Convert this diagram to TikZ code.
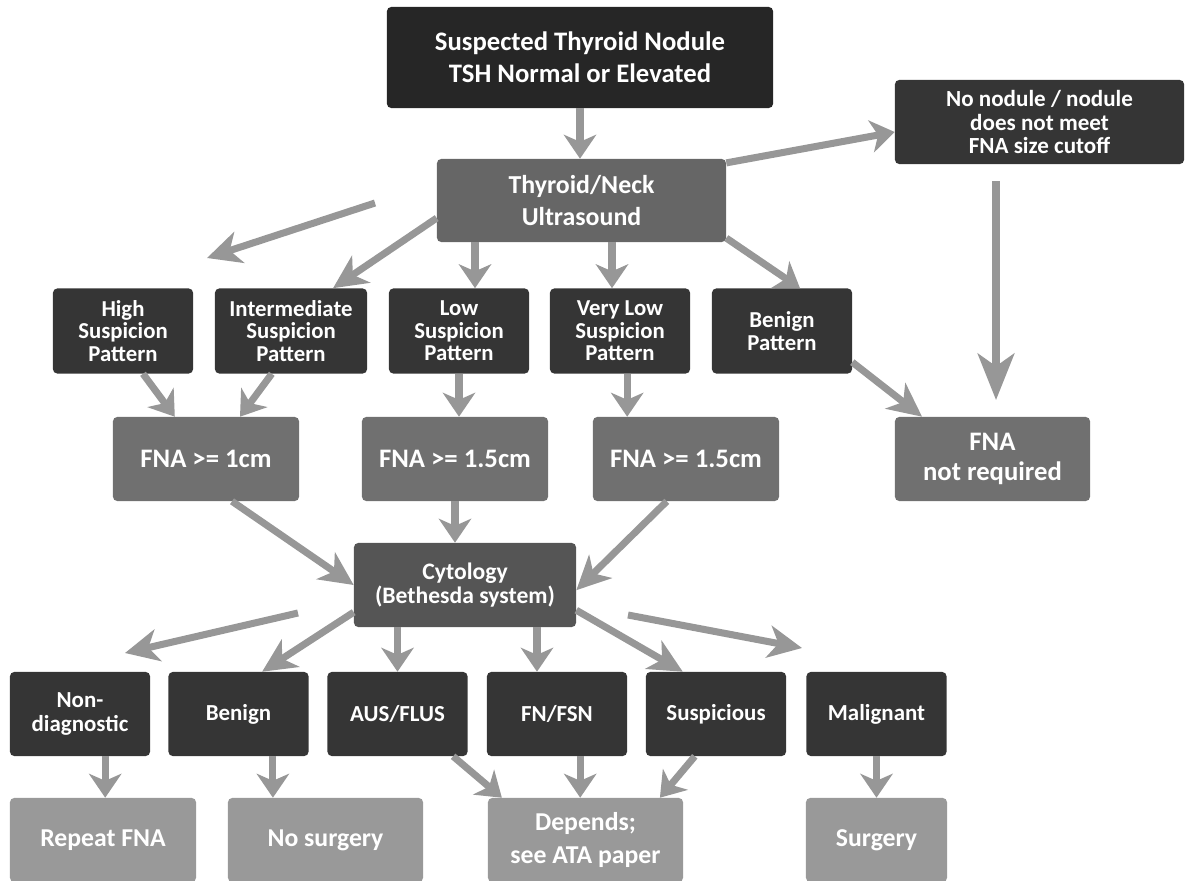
\documentclass[tikz,border=0pt]{standalone}
\usepackage{fontspec}
\setmainfont{Carlito}
\usetikzlibrary{arrows.meta}
\definecolor{topgray}{HTML}{262626}
\definecolor{darkgray}{HTML}{353535}
\definecolor{usgray}{HTML}{666666}
\definecolor{fnagray}{HTML}{707070}
\definecolor{cytogray}{HTML}{555555}
\definecolor{resgray}{HTML}{999999}
\definecolor{arrowgray}{HTML}{979797}

\begin{document}
\begin{tikzpicture}[x=0.025cm,y=-0.025cm,
  box/.style={rounded corners=3pt,text=white,align=center,inner sep=0pt},
  headbox/.style={box,fill=topgray,minimum width=9.65cm,minimum height=2.525cm,font=\fontsize{19}{22.5}\selectfont\bfseries},
  usbox/.style={box,fill=usgray,minimum width=7.225cm,minimum height=2.075cm,font=\fontsize{18.4}{22.5}\selectfont\bfseries},
  patbox/.style={box,fill=darkgray,minimum width=3.5cm,minimum height=2.125cm,font=\fontsize{16.2}{16}\selectfont\bfseries},
  fnabox/.style={box,fill=fnagray,minimum width=4.65cm,minimum height=2.1cm,font=\fontsize{19}{21}\selectfont\bfseries},
  cytobox/.style={box,fill=cytogray,minimum width=5.55cm,minimum height=2.1cm,font=\fontsize{16.8}{17}\selectfont\bfseries},
  catbox/.style={box,fill=darkgray,minimum width=3.5cm,minimum height=2.1cm,font=\fontsize{16.3}{16.5}\selectfont\bfseries},
  resbox/.style={box,fill=resgray,minimum height=2.1cm,font=\fontsize{18.3}{23.5}\selectfont\bfseries},
  flow/.style={draw=arrowgray,line width=5pt,-{Stealth[length=17pt,width=23pt,inset=5pt]}},
  longflow/.style={draw=arrowgray,line width=5pt,-{Stealth[length=24pt,width=23pt,inset=7pt]}},
  bigflow/.style={draw=arrowgray,line width=5pt,-{Stealth[length=33pt,width=26pt,inset=9pt]}}]
\useasboundingbox (0,0) rectangle (1186,881);

% first two levels
\node[headbox] (start) at (580,57.5) {Suspected Thyroid Nodule\\TSH Normal or Elevated};
\node[usbox] (us) at (581.5,200.5) {Thyroid/Neck\\Ultrasound};
\node[box,fill=darkgray,minimum width=7.225cm,minimum height=2.1cm,font=\fontsize{16.4}{16.5}\selectfont\bfseries] (nonod) at (1039.5,122) {No nodule / nodule\\does not meet\\FNA size cutoff};

% ultrasound patterns
\node[patbox] (high) at (123,331) {High\\Suspicion\\Pattern};
\node[patbox,minimum width=3.8cm] (inter) at (291,331) {Intermediate\\Suspicion\\Pattern};
\node[patbox] (low) at (459,331) {Low\\Suspicion\\Pattern};
\node[patbox] (vlow) at (620,331) {Very Low\\Suspicion\\Pattern};
\node[patbox] (bpat) at (782,331) {Benign\\Pattern};

\node[fnabox] (fna1) at (206,459) {FNA >= 1cm};
\node[fnabox] (fna2) at (455,459) {FNA >= 1.5cm};
\node[fnabox] (fna3) at (686,459) {FNA >= 1.5cm};
\node[fnabox,minimum width=4.875cm] (fnanot) at (992.5,459) {FNA\\not required};

\node[cytobox] (cyto) at (465,585) {Cytology\\(Bethesda system)};

% Bethesda categories
\node[catbox] (nondiag) at (80,714) {Non-\\diagnostic};
\node[catbox] (benign) at (238.5,714) {Benign};
\node[catbox] (aus) at (397.5,714) {AUS/FLUS};
\node[catbox] (fnfsn) at (557,714) {FN/FSN};
\node[catbox] (susp) at (716,714) {Suspicious};
\node[catbox] (malig) at (876.5,714) {Malignant};

\node[resbox,minimum width=4.65cm] (repeat) at (103,840) {Repeat FNA};
\node[resbox,minimum width=4.875cm] (nosurg) at (325.5,840) {No surgery};
\node[resbox,minimum width=4.875cm] (depends) at (585.5,840) {Depends;\\see ATA paper};
\node[resbox,minimum width=3.525cm] (surgery) at (876.5,840) {Surgery};

\coordinate (usfree) at (375,203);
\coordinate (usfreeend) at (207,258);
\coordinate (nonodfree) at (996,181);
\coordinate (nonodfreeend) at (996,400);
\coordinate (cytofreeL) at (298,613);
\coordinate (cytofreeLend) at (125,653);
\coordinate (cytofreeR) at (628,615);
\coordinate (cytofreeRend) at (802,648);

\draw[flow] (start.south) -- (start.south |- us.north);
\draw[flow] ([yshift=0.94cm]us.east) -- ([yshift=-0.25cm]nonod.west);
\draw[longflow] (usfree) -- (usfreeend);
\draw[longflow] ([yshift=-0.44cm]us.west) -- ([xshift=1.05cm]inter.north);
\draw[flow] ([xshift=0.4cm]low.north |- us.south) -- ([xshift=0.4cm]low.north);
\draw[flow] ([xshift=-0.2cm]vlow.north |- us.south) -- ([xshift=-0.2cm]vlow.north);
\draw[flow] ([yshift=-0.94cm]us.east) -- ([xshift=0.45cm]bpat.north);
\draw[bigflow] (nonodfree) -- (nonodfreeend);
\draw[longflow] ([yshift=-0.78cm]bpat.east) -- ([xshift=-1.76cm]fnanot.north);

\draw[flow] ([xshift=0.5cm]high.south) -- ([xshift=-0.78cm]fna1.north);
\draw[flow] ([xshift=-0.48cm]inter.south) -- ([xshift=0.85cm]fna1.north);
\draw[flow] (low.south) -- (low.south |- fna2.north);
\draw[flow] ([xshift=0.18cm]vlow.south) -- ([xshift=0.18cm]vlow.south |- fna3.north);

\draw[longflow] ([xshift=0.65cm]fna1.south) -- (cyto.west);
\draw[flow] (fna2.south) -- (fna2.south |- cyto.north);
\draw[longflow] ([xshift=-0.48cm]fna3.south) -- ([yshift=-0.13cm]cyto.east);

\draw[longflow] (cytofreeL) -- (cytofreeLend);
\draw[longflow] ([yshift=-0.68cm]cyto.west) -- ([xshift=0.59cm]benign.north);
\draw[flow] (cyto.south -| aus.north) -- (aus.north);
\draw[flow] ([xshift=-0.5cm]fnfsn.north |- cyto.south) -- ([xshift=-0.5cm]fnfsn.north);
\draw[longflow] ([yshift=-0.63cm]cyto.east) -- ([xshift=-0.83cm]susp.north);
\draw[longflow] (cytofreeR) -- (cytofreeRend);

\draw[flow] ([xshift=0.63cm]nondiag.south) -- ([xshift=0.63cm]nondiag.south |- repeat.north);
\draw[flow] ([xshift=0.86cm]benign.south) -- ([xshift=0.86cm]benign.south |- nosurg.north);
\draw[flow] ([xshift=1.39cm]aus.south) -- ([xshift=-2.09cm]depends.north);
\draw[flow] ([xshift=0.58cm]fnfsn.south) -- ([xshift=0.58cm]fnfsn.south |- depends.north);
\draw[flow] ([xshift=-0.53cm]susp.south) -- ([xshift=1.86cm]depends.north);
\draw[flow] (malig.south) -- (surgery.north);
\end{tikzpicture}
\end{document}
